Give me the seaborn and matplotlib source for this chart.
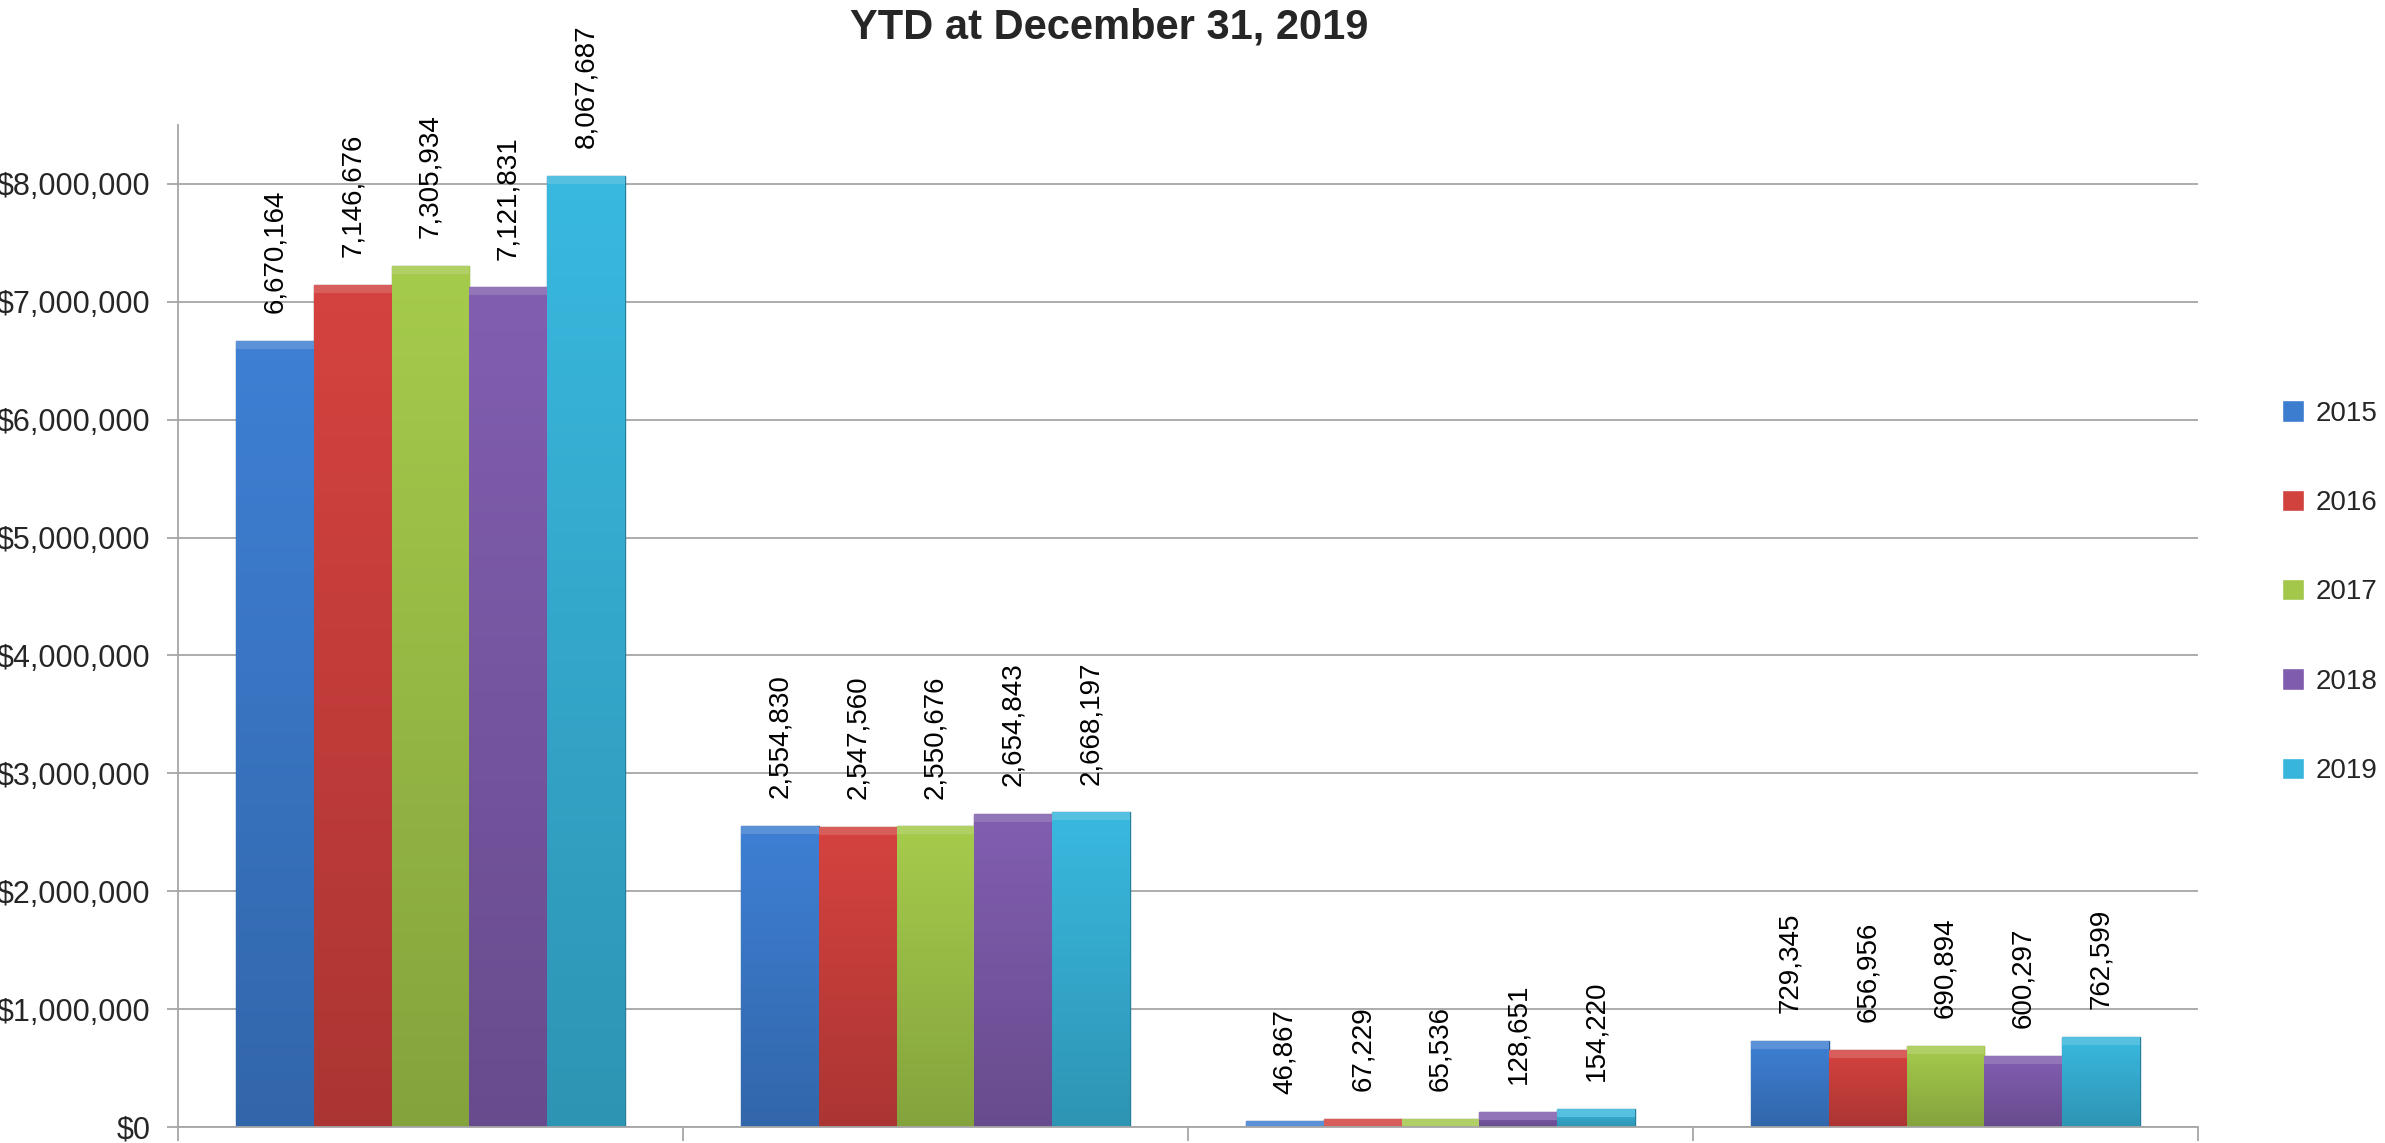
import matplotlib
matplotlib.use("Agg")
import matplotlib.pyplot as plt
import matplotlib.ticker as mticker
from matplotlib.patches import Rectangle
import seaborn as sns
import pandas as pd
import numpy as np
from matplotlib.colors import to_rgb

# ---- data ----
categories = ["Group 1", "Group 2", "Group 3", "Group 4"]
years = ["2015", "2016", "2017", "2018", "2019"]
values_2015 = [6670164, 2554830, 46867, 729345]
values_2016 = [7146676, 2547560, 67229, 656956]
values_2017 = [7305934, 2550676, 65536, 690894]
values_2018 = [7121831, 2654843, 128651, 600297]
values_2019 = [8067687, 2668197, 154220, 762599]
series = [values_2015, values_2016, values_2017, values_2018, values_2019]
colors = ["#3D7DD0", "#D1413E", "#A2C74A", "#7F5CAD", "#38B5DB"]
title = "YTD at December 31, 2019"

rows = []
for yr, vals in zip(years, series):
    for cat, v in zip(categories, vals):
        rows.append({"category": cat, "year": yr, "value": v})
df = pd.DataFrame(rows)

sns.set_style("white")
plt.rcParams['font.family'] = ['Liberation Sans', 'DejaVu Sans']

fig = plt.figure(figsize=(23.85, 11.43), dpi=100)
ax = fig.add_axes([178/2385, 16/1143, (2198-178)/2385, (1127-125)/1143])

sns.barplot(data=df, x="category", y="value", hue="year", order=categories,
            hue_order=years, palette=colors, width=0.77, saturation=1,
            ax=ax, legend=True)

YMAX = 8.5e6
ax.set_ylim(0, YMAX)
ax.set_xlim(-0.5, len(categories) - 0.5)

grid_color = "#A6A6A6"
ax_h_px = (1127 - 125)
band = 8 * YMAX / ax_h_px  # top bevel height in data units (~8 px)
for p in list(ax.patches):
    fc = np.array(to_rgb(p.get_facecolor()))
    x, w, h = p.get_x(), p.get_width(), p.get_height()
    if h <= 0:
        continue
    top = np.clip(fc * 1.02, 0, 1)
    bot = np.clip(fc * 0.82, 0, 1)
    t = np.linspace(0, 1, 64)[:, None]
    grad = (top[None, :] * (1 - t) + bot[None, :] * t)[:, None, :]
    im = ax.imshow(grad, extent=[x, x + w, 0, h], aspect="auto",
                   origin="upper", zorder=p.get_zorder() + 0.1,
                   interpolation="bilinear")
    im.set_clip_path(p)
    b = min(band, h)
    ax.add_patch(Rectangle((x, h - b), w, b, facecolor=np.clip(fc * 0.85 + 0.15, 0, 1),
                           edgecolor="none", zorder=p.get_zorder() + 0.2))
    p.set_edgecolor(tuple(fc * 0.7))
    p.set_linewidth(1.0)

for cont in ax.containers:
    vals = [b.get_height() for b in cont]
    ax.bar_label(cont, labels=[f"{v:,.0f}" for v in vals], rotation=90,
                 padding=20, fontsize=20, color="black")

ax.set_ylim(0, YMAX)
ax.set_xlim(-0.5, len(categories) - 0.5)
ax.set_yticks(np.arange(0, 8.5e6, 1e6))
ax.yaxis.set_major_formatter(mticker.FuncFormatter(lambda v, p: f"${v:,.0f}"))
ax.set_xticks(np.arange(-0.5, len(categories), 1.0))
ax.set_xticklabels([""] * (len(categories) + 1))
ax.set_xlabel("")
ax.set_ylabel("")
ax.yaxis.grid(True, color=grid_color, linewidth=1.3)
ax.set_axisbelow(True)
for s in ["top", "right"]:
    ax.spines[s].set_visible(False)
for s in ["left", "bottom"]:
    ax.spines[s].set_color(grid_color)
    ax.spines[s].set_linewidth(1.3)
ax.tick_params(axis="y", which="major", length=8, width=1.3, color=grid_color,
               direction="out", labelsize=22, pad=12, left=True)
ax.tick_params(axis="x", which="major", length=10, width=1.3, color=grid_color,
               direction="out", bottom=True)

handles, labels = ax.get_legend_handles_labels()
ax.legend(handles, labels, loc="center left", bbox_to_anchor=(0.951, 0.482),
          bbox_transform=fig.transFigure, frameon=False, fontsize=20,
          handlelength=0.8, handleheight=0.8, handletextpad=0.4,
          labelspacing=2.27, borderpad=0)

fig.text(0.465, 0.976, title, ha="center", va="center", fontsize=30,
         fontweight="bold")

fig.savefig("out.png", dpi=100)
